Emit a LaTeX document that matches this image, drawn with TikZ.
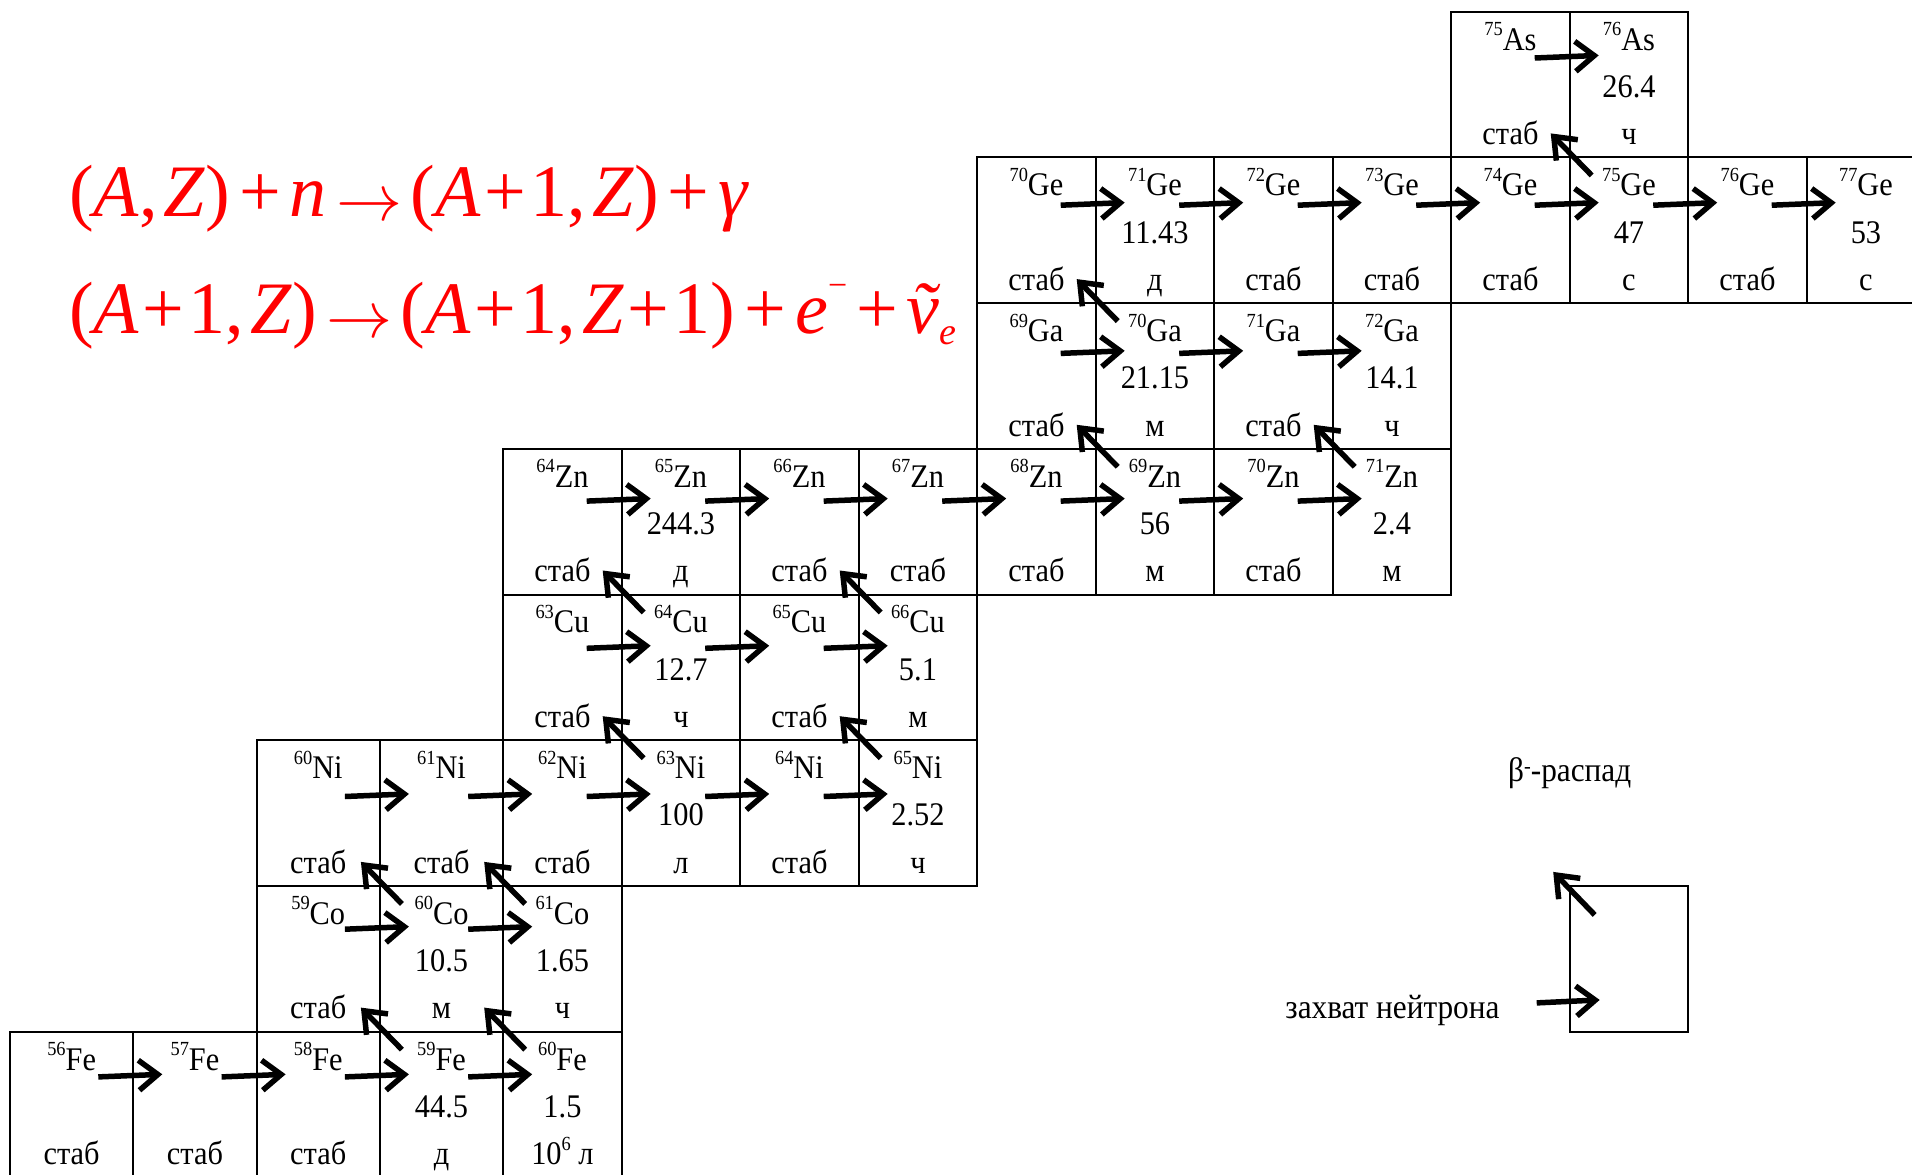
\documentclass[tikz,border=0pt]{standalone}
\usepackage{fontspec}
\setmainfont[FakeStretch=0.92]{Liberation Serif}
\newfontfamily\eqfont{Liberation Serif}
\usetikzlibrary{positioning,arrows.meta}

\tikzstyle{capt} = [->, line width=5.5pt]
\newcommand{\up}[1]{\raisebox{14.5pt}{\fontsize{20}{20}\selectfont #1}}
\newcommand{\cs}{\rule[-10.75pt]{0pt}{47.25pt}}
\newcommand{\iso}[4]{\cs\up{#1}#2\\\cs#3\\\cs#4}
\newcommand{\pls}{\hspace{9pt}+\hspace{9pt}}
\newcommand{\ipls}{\hspace{3pt}+\hspace{5pt}}
\newcommand{\cm}{,\hspace{6pt}}
\newcommand{\arr}{\hspace{10pt}\raisebox{-4pt}{\resizebox{66pt}{!}{$\rightarrow$}}\hspace{8pt}}

\begin{document}
\begin{tikzpicture}[x=1pt,y=-1pt,node distance=0pt,>={Straight Barb[length=19pt,width=30pt]}]
    \tikzstyle{cell}=[draw,line width=2pt,outer sep=0pt,inner sep=0pt,minimum width=118.5pt,minimum height=145.7pt,align=center,font=\fontsize{33}{47.25}\selectfont]
    \tikzstyle{wcell}=[cell,minimum width=123.3pt]
    \tikzstyle{eqn}=[anchor=base west,inner sep=0pt,text=red,font=\eqfont\fontsize{74}{80}\selectfont]
    \tikzstyle{lbl}=[inner sep=0pt,font=\fontsize{34}{40}\selectfont]
    \useasboundingbox (0,0) rectangle (1912,1175);

    \node[wcell,anchor=north west] (Fe56) at (10,1031.6) {\iso{56}{Fe}{}{стаб}};
    \node[wcell,right=of Fe56] (Fe57) {\iso{57}{Fe}{}{стаб}};
    \node[wcell,right=of Fe57] (Fe58) {\iso{58}{Fe}{}{стаб}};
    \node[wcell,right=of Fe58] (Fe59) {\iso{59}{Fe}{44.5}{д}};
    \node[cell,right=of Fe59] (Fe60) {\iso{60}{Fe}{1.5}{10\up{6} л}};

    \node[wcell,above=of Fe58] (Co59) {\iso{59}{Co}{}{стаб}};
    \node[wcell,right=of Co59] (Co60) {\iso{60}{Co}{10.5}{м}};
    \node[cell,right=of Co60] (Co61) {\iso{61}{Co}{1.65}{ч}};

    \node[wcell,above=of Co59] (Ni60) {\iso{60}{Ni}{}{стаб}};
    \node[wcell,right=of Ni60] (Ni61) {\iso{61}{Ni}{}{стаб}};
    \node[cell,right=of Ni61] (Ni62) {\iso{62}{Ni}{}{стаб}};
    \node[cell,right=of Ni62] (Ni63) {\iso{63}{Ni}{100}{л}};
    \node[cell,right=of Ni63] (Ni64) {\iso{64}{Ni}{}{стаб}};
    \node[cell,right=of Ni64] (Ni65) {\iso{65}{Ni}{2.52}{ч}};

    \node[cell,above=of Ni62] (Cu63) {\iso{63}{Cu}{}{стаб}};
    \node[cell,right=of Cu63] (Cu64) {\iso{64}{Cu}{12.7}{ч}};
    \node[cell,right=of Cu64] (Cu65) {\iso{65}{Cu}{}{стаб}};
    \node[cell,right=of Cu65] (Cu66) {\iso{66}{Cu}{5.1}{м}};

    \node[cell,above=of Cu63] (Zn64) {\iso{64}{Zn}{}{стаб}};
    \node[cell,right=of Zn64] (Zn65) {\iso{65}{Zn}{244.3}{д}};
    \node[cell,right=of Zn65] (Zn66) {\iso{66}{Zn}{}{стаб}};
    \node[cell,right=of Zn66] (Zn67) {\iso{67}{Zn}{}{стаб}};
    \node[cell,right=of Zn67] (Zn68) {\iso{68}{Zn}{}{стаб}};
    \node[cell,right=of Zn68] (Zn69) {\iso{69}{Zn}{56}{м}};
    \node[cell,right=of Zn69] (Zn70) {\iso{70}{Zn}{}{стаб}};
    \node[cell,right=of Zn70] (Zn71) {\iso{71}{Zn}{2.4}{м}};

    \node[cell,above=of Zn68] (Ga69) {\iso{69}{Ga}{}{стаб}};
    \node[cell,right=of Ga69] (Ga70) {\iso{70}{Ga}{21.15}{м}};
    \node[cell,right=of Ga70] (Ga71) {\iso{71}{Ga}{}{стаб}};
    \node[cell,right=of Ga71] (Ga72) {\iso{72}{Ga}{14.1}{ч}};

    \node[cell,above=of Ga69] (Ge70) {\iso{70}{Ge}{}{стаб}};
    \node[cell,right=of Ge70] (Ge71) {\iso{71}{Ge}{11.43}{д}};
    \node[cell,right=of Ge71] (Ge72) {\iso{72}{Ge}{}{стаб}};
    \node[cell,right=of Ge72] (Ge73) {\iso{73}{Ge}{}{стаб}};
    \node[cell,right=of Ge73] (Ge74) {\iso{74}{Ge}{}{стаб}};
    \node[cell,right=of Ge74] (Ge75) {\iso{75}{Ge}{47}{с}};
    \node[cell,right=of Ge75] (Ge76) {\iso{76}{Ge}{}{стаб}};
    \node[cell,right=of Ge76] (Ge77) {\iso{77}{Ge}{53}{с}};

    \node[cell,above=of Ge74] (As75) {\iso{75}{As}{}{стаб}};
    \node[cell,right=of As75] (As76) {\iso{76}{As}{26.4}{ч}};

    \foreach \a/\b/\d in {Fe56/Fe57/44pt,Fe57/Fe58/44pt,Fe58/Fe59/44pt,Fe59/Fe60/44pt,
        Co59/Co60/42pt,Co60/Co61/42pt,
        Ni60/Ni61/55pt,Ni61/Ni62/55pt,Ni62/Ni63/55pt,Ni63/Ni64/55pt,Ni64/Ni65/55pt,
        Cu63/Cu64/52.5pt,Cu64/Cu65/52.5pt,Cu65/Cu66/52.5pt,
        Zn64/Zn65/51pt,Zn65/Zn66/51pt,Zn66/Zn67/51pt,Zn67/Zn68/51pt,Zn68/Zn69/51pt,Zn69/Zn70/51pt,Zn70/Zn71/51pt,
        Ga69/Ga70/49pt,Ga70/Ga71/49pt,Ga71/Ga72/49pt,
        Ge70/Ge71/46.5pt,Ge71/Ge72/46.5pt,Ge72/Ge73/46.5pt,Ge73/Ge74/46.5pt,Ge74/Ge75/46.5pt,Ge75/Ge76/46.5pt,Ge76/Ge77/46.5pt,
        As75/As76/45pt}
        \draw[capt] ([shift={(-35pt,-\d-1.3pt)}]\a.north east) -- ([shift={(29pt,-\d+1.3pt)}]\b.north west);

    \foreach \a/\b in {Fe59/Co59,Fe60/Co60,Co60/Ni60,Co61/Ni61,Ni63/Cu63,Ni65/Cu65,
        Cu64/Zn64,Cu66/Zn66,Zn69/Ga69,Zn71/Ga71,Ga70/Ge70,Ge75/As75}
        \draw[capt] ([shift={(22pt,-18pt)}]\a.north west) -- ([shift={(-19pt,24pt)}]\b.south east);

    \node[cell] (key) at (Ge75 |- Co60) {};
    \draw[capt] ([shift={(25pt,-29pt)}]key.north west) -- ([shift={(-16.5pt,14pt)}]key.north west);
    \draw[capt] ([shift={(-33pt,-117pt)}]key.north west) -- ([shift={(30pt,-114pt)}]key.north west);
    \node[lbl,anchor=base] (blbl) at ([yshift=104pt]key.north west) {β\raisebox{8pt}{\fontsize{22}{22}\selectfont -}-распад};
    \node[lbl,anchor=base east] (clbl) at ([shift={(-70pt,13pt)}]key.south west) {захват нейтрона};

    \node[eqn] (eqa) at (69,216) {(\textit{A}\cm\textit{Z\/})\pls\textit{n}\arr(\textit{A}\ipls1\cm\textit{Z\/})\pls\textit{γ}};
    \node[eqn] (eqb) at (69,333) {(\textit{A}\ipls1\cm\textit{Z\/})\arr(\textit{A}\ipls1\cm\textit{Z\/}\ipls1)\pls\textit{e}\raisebox{37pt}{\fontsize{34}{34}\selectfont −}\pls\textit{\makebox[0pt][l]{\hspace{5pt}˜}ν}\raisebox{-11pt}{\fontsize{38}{38}\selectfont\itshape e}};
\end{tikzpicture}
\end{document}
